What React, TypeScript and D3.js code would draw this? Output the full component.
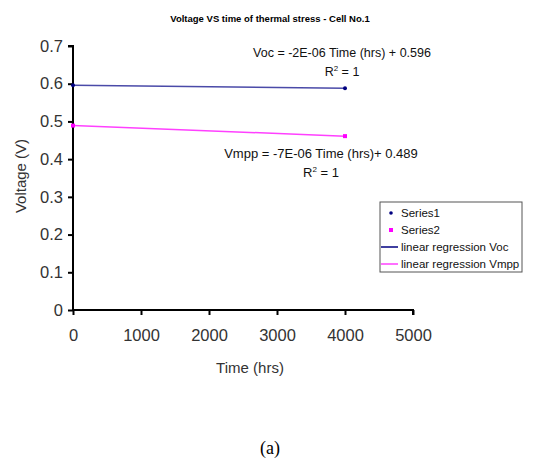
import React, { useEffect, useRef } from 'react';
import * as d3 from 'd3';

const timeHrs = [0, 4000];
const vocValues = [0.596, 0.588];
const vmppValues = [0.489, 0.461];
const xTicks = [0, 1000, 2000, 3000, 4000, 5000];
const yTicks = [0, 0.1, 0.2, 0.3, 0.4, 0.5, 0.6, 0.7];
const legendItems = ['Series1', 'Series2', 'linear regression Voc', 'linear regression Vmpp'];

const W = 538;
const H = 459;

const App: React.FC = () => {
  const svgRef = useRef<SVGSVGElement>(null);

  useEffect(() => {
    if (!svgRef.current) return;
    const svg = d3.select(svgRef.current);
    svg.selectAll('*').remove();

    const font = "'Liberation Sans', Arial, sans-serif";
    const x = d3.scaleLinear().domain([0, 5000]).range([73, 413]);
    const y = d3.scaleLinear().domain([0, 0.7]).range([310, 46]);

    // title
    svg.append('text')
      .attr('x', 270).attr('y', 22)
      .attr('text-anchor', 'middle')
      .style('font-family', font).style('font-size', '9.5px').style('font-weight', 'bold')
      .text('Voltage VS time of thermal stress - Cell No.1');

    // axes
    const yAxis = svg.append('g')
      .attr('transform', `translate(${x(0)},0)`)
      .call(d3.axisLeft(y).tickValues(yTicks).tickSize(5).tickPadding(5).tickFormat(d => `${+(+d).toFixed(1)}`));
    const xAxis = svg.append('g')
      .attr('transform', `translate(0,${y(0)})`)
      .call(d3.axisBottom(x).tickValues(xTicks).tickSize(5).tickPadding(14).tickFormat(d3.format('d')));
    [yAxis, xAxis].forEach(a => {
      a.select('.domain').attr('stroke', '#000').attr('stroke-width', 2);
      a.selectAll('.tick line').attr('stroke', '#000').attr('stroke-width', 2);
      a.selectAll('.tick text')
        .style('font-family', font).style('font-size', '16.5px').attr('fill', '#333');
    });
    yAxis.select('.domain').attr('d', `M-5,${y(0.7)}H0V${y(0)}`);
    xAxis.select('.domain').attr('d', `M${x(0)},0H${x(5000)}V5`);

    // axis titles
    svg.append('text')
      .attr('transform', `translate(26,176) rotate(-90)`)
      .attr('text-anchor', 'middle')
      .style('font-family', font).style('font-size', '15px').attr('fill', '#333')
      .text('Voltage (V)');
    svg.append('text')
      .attr('x', 250).attr('y', 373)
      .attr('text-anchor', 'middle')
      .style('font-family', font).style('font-size', '15px').attr('fill', '#333')
      .text('Time (hrs)');

    // regression lines
    const line = d3.line<number>().x((_d, i) => x(timeHrs[i])).y(d => y(d));
    svg.append('path').attr('d', line(vocValues) || '')
      .attr('fill', 'none').attr('stroke', '#4a4aa8').attr('stroke-width', 1.5);
    svg.append('path').attr('d', line(vmppValues) || '')
      .attr('fill', 'none').attr('stroke', '#ff40ff').attr('stroke-width', 1.5);

    svg.selectAll('.p1').data(vocValues).enter().append('circle')
      .attr('cx', (_d, i) => x(timeHrs[i])).attr('cy', d => y(d)).attr('r', 2)
      .attr('fill', '#000080');
    svg.selectAll('.p2').data(vmppValues).enter().append('rect')
      .attr('x', (_d, i) => x(timeHrs[i]) - 2).attr('y', d => y(d) - 2)
      .attr('width', 4).attr('height', 4).attr('fill', '#ff00ff');

    // equations
    const eq = (cx: number, cy: number, t: string, fs: number) => {
      svg.append('text').attr('x', cx).attr('y', cy).attr('text-anchor', 'middle')
        .style('font-family', font).style('font-size', `${fs}px`).attr('fill', '#111').text(t);
      const r = svg.append('text').attr('x', cx).attr('y', cy + 19).attr('text-anchor', 'middle')
        .style('font-family', font).style('font-size', `${fs}px`).attr('fill', '#111');
      r.append('tspan').text('R');
      r.append('tspan').attr('dy', -5).style('font-size', '8px').text('2');
      r.append('tspan').attr('dy', 5).text(' = 1');
    };
    eq(342, 57, 'Voc = -2E-06 Time (hrs) + 0.596', 12.5);
    eq(321, 158, 'Vmpp = -7E-06 Time (hrs)+ 0.489', 13);

    // legend
    const lg = svg.append('g').attr('transform', 'translate(380,202)');
    lg.append('rect').attr('width', 142).attr('height', 70)
      .attr('fill', '#fff').attr('stroke', '#555').attr('stroke-width', 1);
    legendItems.forEach((label, i) => {
      const cy = 11 + i * 17;
      if (i === 0) lg.append('circle').attr('cx', 11).attr('cy', cy).attr('r', 1.8).attr('fill', '#000080');
      if (i === 1) lg.append('rect').attr('x', 9).attr('y', cy - 2).attr('width', 4).attr('height', 4).attr('fill', '#ff00ff');
      if (i === 2) lg.append('line').attr('x1', 1).attr('x2', 18).attr('y1', cy).attr('y2', cy).attr('stroke', '#000080').attr('stroke-width', 1.5);
      if (i === 3) lg.append('line').attr('x1', 1).attr('x2', 18).attr('y1', cy).attr('y2', cy).attr('stroke', '#ff40ff').attr('stroke-width', 1.5);
      lg.append('text').attr('x', 21).attr('y', cy + 4)
        .style('font-family', font).style('font-size', '11.5px').attr('fill', '#111').text(label);
    });

    // caption
    svg.append('text').attr('x', 270).attr('y', 454).attr('text-anchor', 'middle')
      .style('font-family', "'Liberation Serif', 'Times New Roman', serif").style('font-size', '18px')
      .text('(a)');
  }, []);

  return (
    <svg ref={svgRef} width={W} height={H}
      style={{ position: 'absolute', left: 0, top: 0, background: '#fff' }} />
  );
};

export default App;
